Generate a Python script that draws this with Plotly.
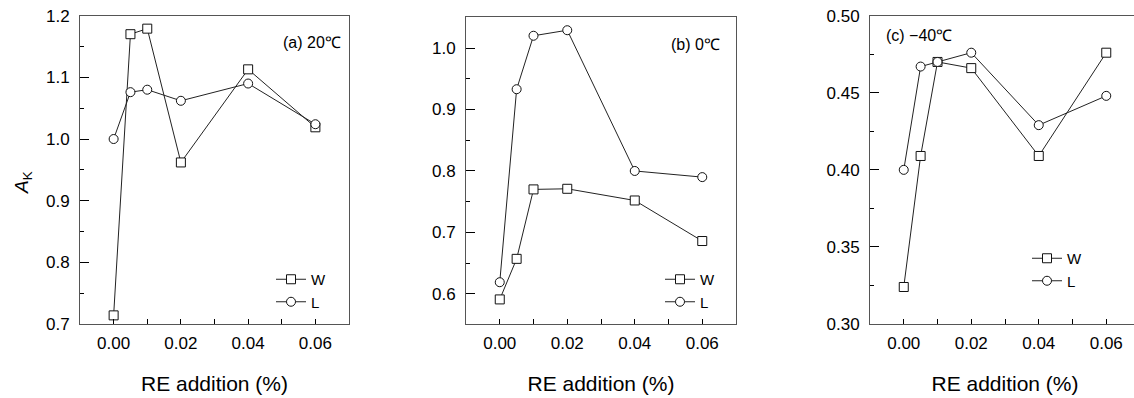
import plotly.graph_objects as go

# ---- data ----
re_addition = [0.0, 0.005, 0.01, 0.02, 0.04, 0.06]

a_W = [0.714, 1.170, 1.179, 0.962, 1.113, 1.019]
a_L = [1.000, 1.076, 1.080, 1.062, 1.090, 1.024]

b_W = [0.591, 0.657, 0.770, 0.771, 0.752, 0.686]
b_L = [0.619, 0.933, 1.020, 1.029, 0.800, 0.790]

c_W = [0.324, 0.409, 0.470, 0.466, 0.409, 0.476]
c_L = [0.400, 0.467, 0.470, 0.476, 0.429, 0.448]

panel_labels = ["(a) 20℃", "(b) 0℃", "(c) −40℃"]
series_names = ["W", "L"]
x_tickvals = [0.0, 0.02, 0.04, 0.06]
x_title = "RE addition (%)"
y_title = "<i>A</i><sub>K</sub>"

# the reference figure is cropped on the right: draw slightly wider than the window
W_PX, H_PX = 1140, 398
FONT = "Arial"
AXIS_LINE = "#555555"

fig = go.Figure()

panels = [
    (a_W, a_L, "x", "y", "legend"),
    (b_W, b_L, "x2", "y2", "legend2"),
    (c_W, c_L, "x3", "y3", "legend3"),
]
symbols = ["square", "circle"]
for (wv, lv, xa, ya, lg) in panels:
    for name, vals, sym in zip(series_names, [wv, lv], symbols):
        fig.add_trace(go.Scatter(
            x=re_addition, y=vals, name=name, mode="lines+markers",
            xaxis=xa, yaxis=ya, legend=lg,
            line=dict(color="#222222", width=1),
            marker=dict(symbol=sym, size=9, color="white",
                        line=dict(color="#111111", width=1)),
        ))

def px_x(p):
    return p / W_PX

def px_y(p):
    return 1 - p / H_PX

def xaxis(domain, rng, mirror=True):
    return dict(
        domain=domain, range=rng, tickvals=x_tickvals, tickformat=".2f",
        automargin=False,
        showline=True, linecolor=AXIS_LINE, linewidth=1, mirror=mirror,
        ticks="inside", ticklen=5, tickcolor="black", tickwidth=1,
        minor=dict(dtick=0.01, tick0=0, ticks="inside", ticklen=5,
                   tickcolor="black", tickwidth=1),
        showgrid=False, zeroline=False,
        tickfont=dict(family=FONT, size=17, color="black"),
        ticklabelstandoff=4,
        title=dict(text=x_title, font=dict(family=FONT, size=21, color="black"),
                   standoff=23),
    )

def yaxis(domain, rng, dtick, mirror=True, fmt=".1f"):
    return dict(
        domain=domain, range=rng, dtick=dtick, tick0=0, tickformat=fmt,
        automargin=False,
        showline=True, linecolor=AXIS_LINE, linewidth=1, mirror=mirror,
        ticks="inside", ticklen=9, tickcolor="black", tickwidth=1,
        minor=dict(dtick=dtick / 2, ticks="inside", ticklen=4,
                   tickcolor="black", tickwidth=1),
        showgrid=False, zeroline=False,
        tickfont=dict(family=FONT, size=17, color="black"),
        ticklabelstandoff=6,
    )

ydom_a = [px_y(324), px_y(15.7)]
ydom_b = [px_y(324), px_y(16.7)]

fig.update_layout(
    width=W_PX, height=H_PX,
    margin=dict(l=0, r=0, t=0, b=0, autoexpand=False),
    paper_bgcolor="white", plot_bgcolor="white",
    font=dict(family=FONT, color="black"),
    xaxis=xaxis([px_x(80), px_x(349)], [-0.01, 0.07]),
    yaxis=yaxis(ydom_a, [0.7, 1.2], 0.1),
    xaxis2=dict(xaxis([px_x(466), px_x(736)], [-0.01, 0.07]), anchor="y2"),
    yaxis2=dict(yaxis(ydom_b, [0.551, 1.051], 0.1), anchor="x2"),
    xaxis3=dict(xaxis([px_x(870), 1.0], [-0.01, 0.07]), anchor="y3"),
    yaxis3=dict(yaxis(ydom_a, [0.30, 0.50], 0.05, fmt=".2f"), anchor="x3"),
    showlegend=True,
)

def legend_cfg(xp, yp):
    return dict(x=px_x(xp), y=px_y(yp), xanchor="left", yanchor="top",
                bgcolor="rgba(0,0,0,0)", borderwidth=0, itemwidth=30,
                tracegroupgap=0, itemclick=False,
                font=dict(family=FONT, size=15, color="black"))

fig.update_layout(
    legend=legend_cfg(271, 263),
    legend2=legend_cfg(660, 263),
    legend3=legend_cfg(1027, 242),
)

annotations = [
    dict(text=panel_labels[0], x=px_x(343), y=px_y(43), xanchor="right", yanchor="middle"),
    dict(text=panel_labels[1], x=px_x(722), y=px_y(45), xanchor="right", yanchor="middle"),
    dict(text=panel_labels[2], x=px_x(884), y=px_y(35), xanchor="left", yanchor="middle"),
]
for an in annotations:
    fig.add_annotation(xref="paper", yref="paper", showarrow=False,
                       font=dict(family=FONT, size=16, color="black"), **an)

fig.add_annotation(text=y_title, xref="paper", yref="paper",
                   x=px_x(23), y=px_y(183), xanchor="center", yanchor="middle",
                   textangle=-90, showarrow=False,
                   font=dict(family=FONT, size=19, color="black"))

fig.write_html(
    "out.html", config={"displayModeBar": False},
    post_script=("document.body.style.margin='0';"
                 "document.body.style.overflow='hidden';"
                 "document.documentElement.style.overflow='hidden';"),
)
